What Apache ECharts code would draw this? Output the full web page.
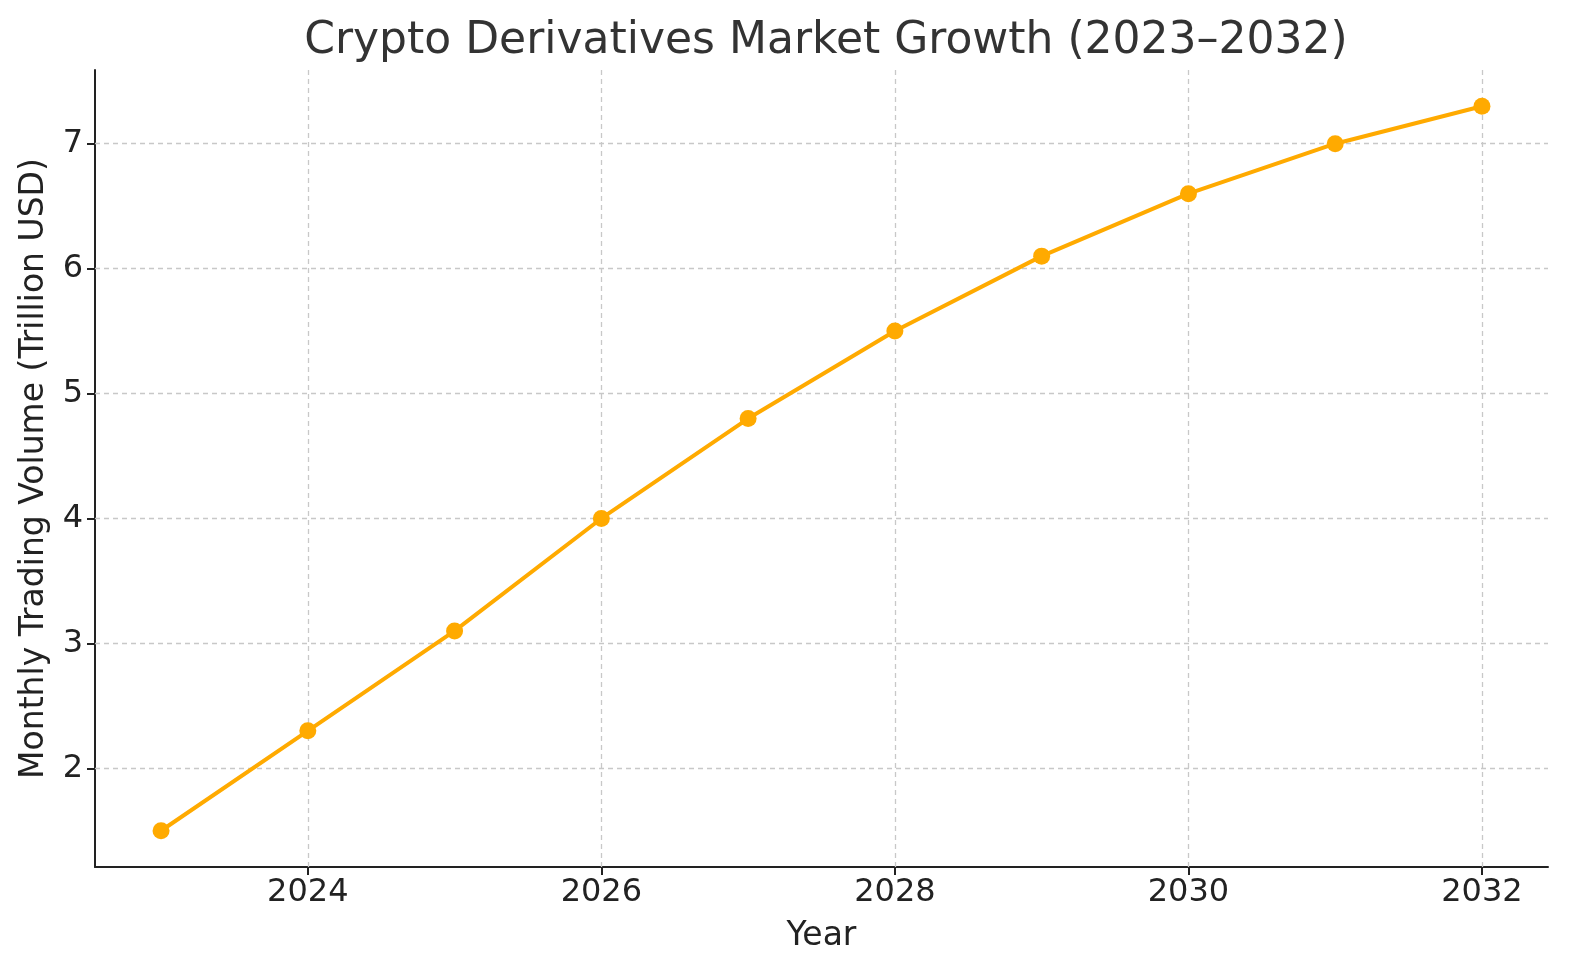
<!DOCTYPE html>
<html>
<head>
<meta charset="utf-8">
<title>Crypto Derivatives Market Growth</title>
<script src="https://cdn.jsdelivr.net/npm/echarts@6/dist/echarts.min.js"></script>
<style>
  html, body { margin: 0; padding: 0; background: #fff; overflow: hidden; }
  #chart { width: 1580px; height: 980px; }
</style>
</head>
<body>
<div id="chart"></div>
<script>
// 数据
var years = [2023, 2024, 2025, 2026, 2027, 2028, 2029, 2030, 2031, 2032];
var volume = [1.5, 2.3, 3.1, 4.0, 4.8, 5.5, 6.1, 6.6, 7.0, 7.3];
var xTicks = [2024, 2026, 2028, 2030, 2032];
var yTicks = [2, 3, 4, 5, 6, 7];

var chart = echarts.init(document.getElementById('chart'));

var points = [];
for (var i = 0; i < years.length; i++) {
  points.push([years[i], volume[i]]);
}

// 网格线用 markLine 画，刻度不从 min 起算
var gridLines = [];
for (var a = 0; a < xTicks.length; a++) gridLines.push({ xAxis: xTicks[a] });
for (var b = 0; b < yTicks.length; b++) gridLines.push({ yAxis: yTicks[b] });

var font = 'DejaVu Sans';

var option = {
  animation: false,
  title: {
    text: 'Crypto Derivatives Market Growth (2023–2032)',
    left: 821,
    textAlign: 'center',
    top: 15,
    textStyle: { fontFamily: font, fontSize: 44, fontWeight: 'normal', color: '#333' }
  },
  grid: { left: 95, right: 32, top: 70, bottom: 113, containLabel: false },
  xAxis: {
    type: 'value',
    min: 2022.55,
    max: 2032.45,
    name: 'Year',
    nameLocation: 'middle',
    nameGap: 53,
    nameTextStyle: { fontFamily: font, fontSize: 33, color: '#222' },
    axisLine: { show: true, lineStyle: { color: '#222', width: 2 } },
    axisTick: { show: true, customValues: xTicks, length: 8, inside: false, lineStyle: { color: '#222', width: 2 } },
    axisLabel: {
      customValues: xTicks, fontFamily: font, fontSize: 32, color: '#222', margin: 10,
      formatter: function(v) { return String(v); }
    },
    splitLine: { show: false }
  },
  yAxis: {
    type: 'value',
    min: 1.21,
    max: 7.59,
    name: 'Monthly Trading Volume (Trillion USD)',
    nameLocation: 'middle',
    nameRotate: 90,
    nameGap: 44,
    nameTextStyle: { fontFamily: font, fontSize: 33, color: '#222' },
    axisLine: { show: true, lineStyle: { color: '#222', width: 2 } },
    axisTick: { show: true, customValues: yTicks, length: 8, lineStyle: { color: '#222', width: 2 } },
    axisLabel: { customValues: yTicks, fontFamily: font, fontSize: 32, color: '#222', margin: 12 },
    splitLine: { show: false }
  },
  series: [{
    type: 'line',
    data: points,
    symbol: 'circle',
    symbolSize: 17,
    itemStyle: { color: '#FFAA00' },
    lineStyle: { color: '#FFAA00', width: 4 },
    z: 3,
    markLine: {
      silent: true,
      symbol: 'none',
      label: { show: false },
      lineStyle: { color: '#c8c8c8', width: 1.3, type: [5, 4] },
      data: gridLines,
      z: 1
    }
  }]
};

chart.setOption(option);
</script>
</body>
</html>
